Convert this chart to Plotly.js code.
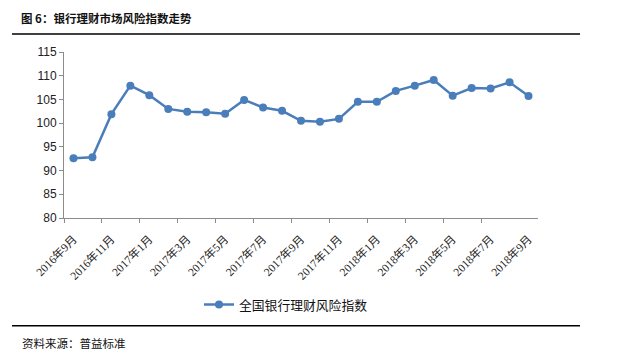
<!DOCTYPE html>
<html>
<head>
<meta charset="utf-8">
<script src="https://cdn.plot.ly/plotly-3.0.1.min.js"></script>
<style>html,body{margin:0;padding:0;background:#fff;}#chart{width:631px;height:357px;}</style>
</head>
<body>
<div id="chart"></div>
<script>
const months = ["2016年9月","2016年10月","2016年11月","2016年12月","2017年1月","2017年2月","2017年3月","2017年4月","2017年5月","2017年6月","2017年7月","2017年8月","2017年9月","2017年10月","2017年11月","2017年12月","2018年1月","2018年2月","2018年3月","2018年4月","2018年5月","2018年6月","2018年7月","2018年8月","2018年9月"];
const riskIndex = [92.6, 92.8, 101.9, 107.9, 105.9, 103.0, 102.4, 102.3, 102.0, 104.9, 103.3, 102.6, 100.5, 100.3, 100.9, 104.5, 104.5, 106.8, 107.9, 109.1, 105.8, 107.4, 107.3, 108.6, 105.7];
const seriesName = "全国银行理财风险指数";
const titleText = "图 6：银行理财市场风险指数走势";
const sourceText = "资料来源：普益标准";

const idx = months.map((m, i) => i);
const tickIdx = idx.filter(i => i % 2 === 0);
const tickText = tickIdx.map(i => months[i]);
const bt = []; for (let i = 0; i < months.length - 1; i += 2) bt.push(i - 0.5);

// plot area in px
const L = 64, R = 538, T = 52.3, B = 218.3;
const W = 631, H = 357;
const px = x => (x - L) / (R - L);
const py = y => (B - y) / (B - T);

const cjk = '"Noto Sans CJK SC", "Noto Sans", sans-serif';
const serif = '"Liberation Serif", "Noto Sans CJK SC", serif';
const color = '#4a7ebb';

const trace = {
  x: idx, y: riskIndex, name: seriesName, type: 'scatter', mode: 'lines+markers',
  line: {color: color, width: 2.5},
  marker: {color: color, size: 8, symbol: 'circle'}
};

const layout = {
  width: W, height: H,
  margin: {l: L, r: W - R, t: T, b: H - B},
  paper_bgcolor: '#fff', plot_bgcolor: '#fff',
  showlegend: true,
  title: {text: titleText, x: 21 / W, xanchor: 'left', xref: 'container', y: 1 - 19 / H, yanchor: 'middle', yref: 'container',
          font: {family: cjk, size: 11.5, color: '#111', weight: 'bold'}},
  xaxis: {
    range: [-0.5, 24.5], showgrid: false, zeroline: false, showline: true, linecolor: '#8c8c8c', linewidth: 1,
    tickmode: 'array', tickvals: tickIdx, ticktext: tickText, ticks: '', tickangle: -45, ticklabelstandoff: 9,
    tickfont: {family: serif, size: 11.5, color: '#222'},
    minor: {tickmode: 'array', tickvals: bt, ticks: 'outside', ticklen: 4, tickcolor: '#8c8c8c', tickwidth: 1, showgrid: false}
  },
  yaxis: {
    range: [80, 115], dtick: 5, tick0: 80, showgrid: false, zeroline: false, showline: true, linecolor: '#8c8c8c', linewidth: 1,
    ticks: 'outside', ticklen: 4, tickcolor: '#8c8c8c',
    tickfont: {family: '"Liberation Sans", Arial, sans-serif', size: 12, color: '#222'}
  },
  legend: {orientation: 'h', x: px(286), xanchor: 'center', y: py(305), yanchor: 'middle',
           font: {family: cjk, size: 12.8, color: '#111'}, bgcolor: 'rgba(0,0,0,0)'},
  shapes: [
    {type: 'line', xref: 'paper', yref: 'paper', x0: px(12), x1: px(580), y0: py(34.3), y1: py(34.3), line: {color: '#000', width: 1.5}},
    {type: 'line', xref: 'paper', yref: 'paper', x0: px(12), x1: px(580), y0: py(326), y1: py(326), line: {color: '#000', width: 1.5}}
  ],
  annotations: [
    {text: sourceText, xref: 'paper', yref: 'paper', x: px(20), y: py(343), xanchor: 'left', yanchor: 'middle', showarrow: false,
     font: {family: cjk, size: 11.5, color: '#111'}}
  ]
};

Plotly.newPlot('chart', [trace], layout, {displayModeBar: false, staticPlot: true});
</script>
</body>
</html>
